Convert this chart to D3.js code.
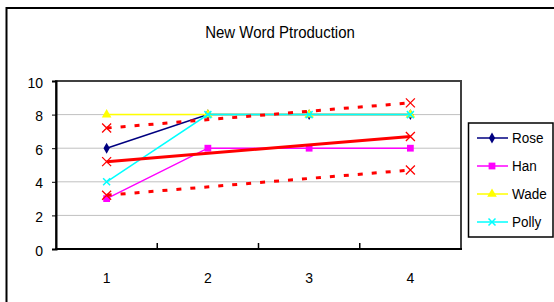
<!DOCTYPE html>
<html>
<head>
<meta charset="utf-8">
<script src="https://cdn.jsdelivr.net/npm/d3@7/dist/d3.min.js"></script>
<style>
  html, body { margin: 0; padding: 0; background: #fff; }
  svg { display: block; }
  text { font-family: "Liberation Sans", Arial, sans-serif; fill: #000; }
</style>
</head>
<body>
<svg id="chart" width="554" height="302"></svg>
<script>
// ---- data ----
const categories = [1, 2, 3, 4];
const seriesNames = ["Rose", "Han", "Wade", "Polly"];
const rose  = [6, 8, 8, 8];
const han   = [3, 6, 6, 6];
const wade  = [8, 8, 8, 8];
const polly = [4, 8, 8, 8];
const trendMid   = [5.2, 6.7];   // values at category 1 and 4
const trendUpper = [7.2, 8.7];
const trendLower = [3.2, 4.7];
const yTicks = [0, 2, 4, 6, 8, 10];
const titleText = "New Word Ptroduction";

const seriesValues = [rose, han, wade, polly];
const seriesColors = ["#000080", "#ff00ff", "#ffff00", "#00ffff"];
const seriesMarkers = ["diamond", "square", "triangle", "x"];

const svg = d3.select("#chart");
const STRETCH = 1.1; // glyphs in the reference are slightly tall

function label(g, x, y, txt, size, anchor) {
  return g.append("text")
    .attr("transform", `translate(${x},${y}) scale(1,${STRETCH})`)
    .attr("text-anchor", anchor || "start")
    .style("font-size", size + "px")
    .text(txt);
}

// outer frame (extends beyond the picture)
svg.append("rect")
  .attr("x", 6.5).attr("y", 8).attr("width", 600).attr("height", 400)
  .attr("fill", "#fff").attr("stroke", "#000").attr("stroke-width", 2);

// title
label(svg, 280, 37.5, titleText, 15, "middle");

const plot = { left: 56, right: 461, top: 81, bottom: 249 };

const x = d3.scaleBand().domain(categories).range([plot.left, plot.right]).padding(0);
const xc = d => x(d) + x.bandwidth() / 2;
const y = d3.scaleLinear().domain([0, 10]).range([plot.bottom, plot.top]);

// gridlines
svg.append("g").selectAll("line")
  .data(yTicks.filter(t => t > 0 && t < 10))
  .join("line")
  .attr("x1", plot.left).attr("x2", plot.right)
  .attr("y1", d => y(d)).attr("y2", d => y(d))
  .attr("stroke", "#c0c0c0").attr("stroke-width", 1);

// plot border (top / right)
svg.append("rect")
  .attr("x", plot.left).attr("y", plot.top)
  .attr("width", plot.right - plot.left).attr("height", plot.bottom - plot.top)
  .attr("fill", "none").attr("stroke", "#404040").attr("stroke-width", 2);

// y axis
const yAxis = d3.axisLeft(y).tickValues(yTicks).tickSize(4).tickFormat("");
const gy = svg.append("g").attr("transform", `translate(${plot.left},0)`).call(yAxis);
gy.select(".domain").attr("stroke", "#000").attr("stroke-width", 2);
gy.selectAll(".tick line").attr("stroke", "#000");
yTicks.forEach(t => label(svg, 43, y(t) + 6.5, d3.format("d")(t), 14, "end"));

// x axis: ticks between categories pointing up, labels lower
const gx = svg.append("g").attr("transform", `translate(0,${plot.bottom})`);
gx.append("line").attr("x1", plot.left - 1).attr("x2", plot.right + 1)
  .attr("stroke", "#000").attr("stroke-width", 2);
gx.selectAll("line.tk")
  .data(categories.slice(1))
  .join("line").attr("class", "tk")
  .attr("x1", d => x(d)).attr("x2", d => x(d))
  .attr("y1", 0).attr("y2", -6)
  .attr("stroke", "#000").attr("stroke-width", 1.5);
categories.forEach(c => label(svg, xc(c), 283, c, 14, "middle"));

// marker drawing
function drawMarker(g, type, color, cx, cy) {
  if (type === "x") {
    const s = 3.5;
    g.append("path")
      .attr("d", `M${cx - s},${cy - s}L${cx + s},${cy + s}M${cx - s},${cy + s}L${cx + s},${cy - s}`)
      .attr("stroke", color).attr("stroke-width", 1.5).attr("fill", "none");
  } else {
    const sym = { diamond: d3.symbolDiamond, square: d3.symbolSquare, triangle: d3.symbolTriangle }[type];
    const size = { diamond: 34, square: 46, triangle: 40 }[type];
    g.append("path")
      .attr("transform", `translate(${cx},${cy})`)
      .attr("d", d3.symbol().type(sym).size(size)())
      .attr("fill", color);
  }
}

const line = d3.line().x((d, i) => xc(categories[i])).y(d => y(d));

// series
seriesValues.forEach((vals, si) => {
  const g = svg.append("g");
  g.append("path").datum(vals).attr("d", line)
    .attr("fill", "none").attr("stroke", seriesColors[si]).attr("stroke-width", 1.5);
  vals.forEach((v, i) => drawMarker(g, seriesMarkers[si], seriesColors[si], xc(categories[i]), y(v)));
});

// red trend lines
const endCats = [categories[0], categories[categories.length - 1]];
const trendLine = d3.line().x((d, i) => xc(endCats[i])).y(d => y(d));
const trends = [
  { vals: trendMid, dash: null },
  { vals: trendUpper, dash: "5,9" },
  { vals: trendLower, dash: "5,9" }
];
trends.forEach(t => {
  const g = svg.append("g");
  g.append("path").datum(t.vals).attr("d", trendLine)
    .attr("fill", "none").attr("stroke", "#ff0000").attr("stroke-width", 3)
    .attr("stroke-dasharray", t.dash);
  t.vals.forEach((v, i) => {
    const cx = xc(endCats[i]), cy = y(v), s = 4.5;
    g.append("path")
      .attr("d", `M${cx - s},${cy - s}L${cx + s},${cy + s}M${cx - s},${cy + s}L${cx + s},${cy - s}`)
      .attr("stroke", "#ff0000").attr("stroke-width", 1.3).attr("fill", "none");
  });
});

// legend
const leg = svg.append("g");
leg.append("rect").attr("x", 468.5).attr("y", 123).attr("width", 84.5).attr("height", 114)
  .attr("fill", "#fff").attr("stroke", "#000").attr("stroke-width", 1.5);
seriesNames.forEach((name, i) => {
  const ly = 138 + i * 28;
  leg.append("line").attr("x1", 477).attr("x2", 508).attr("y1", ly).attr("y2", ly)
    .attr("stroke", seriesColors[i]).attr("stroke-width", 1.5);
  drawMarker(leg, seriesMarkers[i], seriesColors[i], 492, ly);
  label(leg, 512, ly + 5, name, 13.5, "start");
});
</script>
</body>
</html>
